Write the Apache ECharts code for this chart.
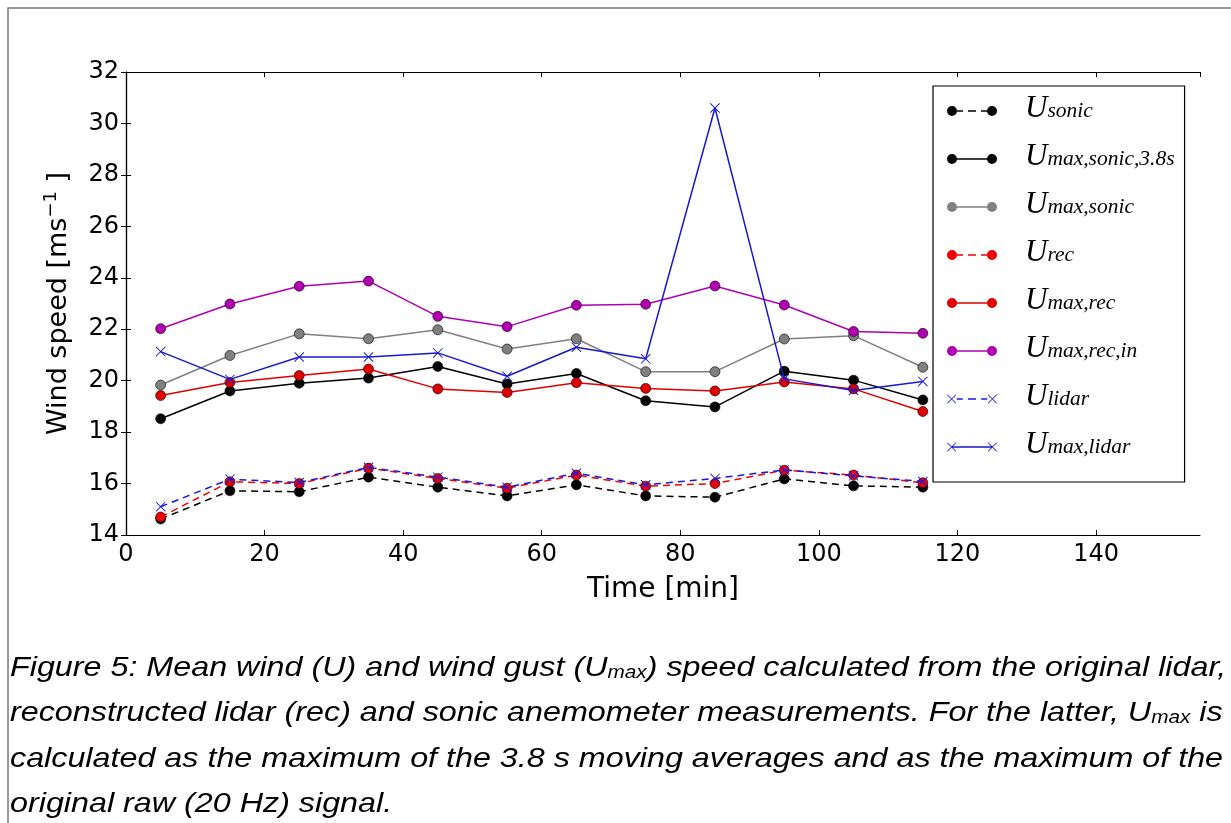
<!DOCTYPE html>
<html>
<head>
<meta charset="utf-8">
<script src="https://cdn.jsdelivr.net/npm/echarts@6/dist/echarts.min.js"></script>
<style>
html,body{margin:0;padding:0;background:#fff;}
#c{width:1231px;height:823px;}
</style>
</head>
<body>
<div id="c"></div>
<script>
var times = [5, 15, 25, 35, 45, 55, 65, 75, 85, 95, 105, 115];
var uSonic      = [14.62, 15.72, 15.68, 16.25, 15.86, 15.52, 15.95, 15.52, 15.47, 16.18, 15.91, 15.86];
var uMaxSonic38 = [18.52, 19.60, 19.90, 20.10, 20.55, 19.87, 20.28, 19.22, 18.98, 20.37, 20.02, 19.25];
var uMaxSonic   = [19.83, 20.98, 21.82, 21.63, 21.98, 21.23, 21.63, 20.35, 20.35, 21.62, 21.75, 20.52];
var uRec        = [14.70, 16.07, 16.00, 16.60, 16.20, 15.82, 16.33, 15.90, 16.00, 16.52, 16.33, 16.03];
var uMaxRec     = [19.42, 19.93, 20.20, 20.45, 19.68, 19.54, 19.92, 19.70, 19.60, 19.95, 19.68, 18.80];
var uMaxRecIn   = [22.02, 22.98, 23.67, 23.87, 22.50, 22.10, 22.93, 22.97, 23.68, 22.94, 21.91, 21.84];
var uLidar      = [15.10, 16.17, 16.04, 16.63, 16.25, 15.86, 16.40, 15.95, 16.20, 16.53, 16.30, 16.08];
var uMaxLidar   = [21.13, 20.05, 20.92, 20.92, 21.08, 20.17, 21.30, 20.85, 30.60, 20.07, 19.62, 19.97];

var seriesNames = ['Usonic', 'Umax_sonic_3.8s', 'Umax_sonic', 'Urec', 'Umax_rec', 'Umax_rec_in', 'Ulidar', 'Umax_lidar'];
var subscripts  = ['sonic', 'max,sonic,3.8s', 'max,sonic', 'rec', 'max,rec', 'max,rec,in', 'lidar', 'max,lidar'];
var xTicks = [0, 20, 40, 60, 80, 100, 120, 140];
var captionLines = [
  'Figure 5: Mean wind (U) and wind gust (U{sub|max}) speed calculated from the original lidar,',
  'reconstructed lidar (rec) and sonic anemometer measurements. For the latter, U{sub|max} is',
  'calculated as the maximum of the 3.8 s moving averages and as the maximum of the',
  'original raw (20 Hz) signal.'
];

function pairs(ys) { return times.map(function (t, i) { return [t, ys[i]]; }); }

var X_PATH = 'path://M0.5,1.1L1.1,0.5L9.5,8.9L8.9,9.5Z M8.9,0.5L9.5,1.1L1.1,9.5L0.5,8.9Z';
var C_L = 'M0,5A5,5 0 1,1 10,5A5,5 0 1,1 0,5Z ';
var C_R = 'M40,5A5,5 0 1,1 50,5A5,5 0 1,1 40,5Z ';
var X_L = 'M0.5,1.1L1.1,0.5L9.5,8.9L8.9,9.5Z M8.9,0.5L9.5,1.1L1.1,9.5L0.5,8.9Z ';
var X_R = 'M40.5,1.1L41.1,0.5L49.5,8.9L48.9,9.5Z M48.9,0.5L49.5,1.1L41.1,9.5L40.5,8.9Z ';
var SOLID = 'M5,4.3L45,4.3L45,5.7L5,5.7Z ';
var DASH = 'M10,4.3L16,4.3L16,5.7L10,5.7Z M21,4.3L29,4.3L29,5.7L21,5.7Z M34,4.3L40,4.3L40,5.7L34,5.7Z ';
var icons = {
  circDash: 'path://' + DASH + C_L + C_R,
  circSolid: 'path://' + SOLID + C_L + C_R,
  xDash: 'path://' + DASH + X_L + X_R,
  xSolid: 'path://' + SOLID + X_L + X_R
};

var styles = [
  {data: uSonic, color: '#000000', dash: true, sym: 'circle', icon: icons.circDash},
  {data: uMaxSonic38, color: '#000000', dash: false, sym: 'circle', icon: icons.circSolid},
  {data: uMaxSonic, color: '#808080', dash: false, sym: 'circle', icon: icons.circSolid},
  {data: uRec, color: '#f00000', dash: true, sym: 'circle', icon: icons.circDash},
  {data: uMaxRec, color: '#e00000', dash: false, sym: 'circle', icon: icons.circSolid},
  {data: uMaxRecIn, color: '#b000b0', dash: false, sym: 'circle', icon: icons.circSolid},
  {data: uLidar, color: '#1818e0', dash: true, sym: X_PATH, icon: icons.xDash},
  {data: uMaxLidar, color: '#1818d0', dash: false, sym: X_PATH, icon: icons.xSolid}
];

var series = styles.map(function (s, i) {
  var isCircle = s.sym === 'circle';
  return {
    name: seriesNames[i],
    type: 'line',
    data: pairs(s.data),
    symbol: s.sym,
    symbolSize: 10,
    showAllSymbol: true,
    animation: false,
    lineStyle: {color: s.color, width: 1.5, type: s.dash ? [7, 5] : 'solid'},
    itemStyle: {color: s.color, borderColor: isCircle ? '#000' : s.color, borderWidth: isCircle ? 0.6 : 0},
    emphasis: {disabled: true},
    z: 2 + i
  };
});

var legendData = seriesNames.map(function (n, i) { return {name: n, icon: styles[i].icon}; });

var captionRich = {sub: {fontFamily: 'Liberation Sans', fontStyle: 'italic', fontSize: 18, padding: [9, 0, 0, 0]}};
function capText(txt, y) {
  return {
    type: 'text', x: 10, y: y, z: 10, scaleX: 1.153, originX: 0, originY: 0, silent: true,
    style: {text: txt, x: 0, y: 0, font: 'italic 28px "Liberation Sans"', fill: '#000',
            verticalAlign: 'top', align: 'left', rich: captionRich}
  };
}

var chart = echarts.init(document.getElementById('c'), null, {renderer: 'canvas'});
var graphics = [
  {type: 'rect', z: 0, silent: true,
   shape: {x: 8, y: 8, width: 1300, height: 900}, style: {fill: 'none', stroke: '#777', lineWidth: 1.5}}
];
var capTops = [654, 699, 745, 790];
captionLines.forEach(function (t, i) { graphics.push(capText(t, capTops[i])); });

chart.setOption({
  animation: false,
  backgroundColor: '#fff',
  grid: {left: 126, right: 31, top: 72, bottom: 288, containLabel: false},
  xAxis: [{
    type: 'value', min: 0, max: 155, interval: 20, position: 'bottom',
    name: 'Time [min]', nameLocation: 'middle', nameGap: 41,
    nameTextStyle: {fontFamily: 'DejaVu Sans', fontSize: 28, color: '#000'},
    axisLine: {show: true, lineStyle: {color: '#000', width: 1.2}},
    axisTick: {show: true, inside: true, length: 5, lineStyle: {color: '#000'}},
    axisLabel: {fontFamily: 'DejaVu Sans', fontSize: 24, color: '#000', margin: 8, showMaxLabel: false,
      formatter: function (v) { return xTicks.indexOf(v) >= 0 ? String(v) : ''; }},
    splitLine: {show: false}
  }, {
    type: 'value', min: 0, max: 155, interval: 20, position: 'top',
    axisLine: {show: true, lineStyle: {color: '#000', width: 1.2}},
    axisTick: {show: true, inside: true, length: 5, lineStyle: {color: '#000'}},
    axisLabel: {show: false}, splitLine: {show: false}
  }],
  yAxis: [{
    type: 'value', min: 14, max: 32, interval: 2, position: 'left',
    name: '{n|Wind speed [ms}{sup|−1}{n| ]}', nameLocation: 'middle', nameGap: 51,
    nameTextStyle: {color: '#000', rich: {
      n: {fontFamily: 'DejaVu Sans', fontSize: 27, color: '#000'},
      sup: {fontFamily: 'DejaVu Sans', fontSize: 18, color: '#000', padding: [0, 0, 15, 0]}
    }},
    axisLine: {show: true, lineStyle: {color: '#000', width: 1.2}},
    axisTick: {show: true, inside: true, length: 5, lineStyle: {color: '#000'}},
    axisLabel: {fontFamily: 'DejaVu Sans', fontSize: 24, color: '#000', margin: 7},
    splitLine: {show: false}
  }, {
    type: 'value', min: 14, max: 32, interval: 2, position: 'right',
    axisLine: {show: true, lineStyle: {color: '#000', width: 1.2}},
    axisTick: {show: true, inside: true, length: 5, lineStyle: {color: '#000'}},
    axisLabel: {show: false}, splitLine: {show: false}
  }],
  legend: {
    data: legendData,
    orient: 'vertical',
    left: 933, top: 86,
    padding: [7, 10, 17, 14],
    itemWidth: 50, itemHeight: 10, itemGap: 12,
    backgroundColor: '#fff', borderColor: '#000', borderWidth: 1.2, borderRadius: 0,
    itemStyle: {borderWidth: 0},
    selectedMode: false,
    z: 20,
    formatter: function (name) {
      var i = seriesNames.indexOf(name);
      return '{u|U}{s|' + subscripts[i] + '}';
    },
    textStyle: {
      color: '#000',
      rich: {
        u: {fontFamily: 'Liberation Serif', fontStyle: 'italic', fontSize: 31, color: '#000', padding: [0, 0, 5, 23], lineHeight: 30},
        s: {fontFamily: 'Liberation Serif', fontStyle: 'italic', fontSize: 21.5, color: '#000', lineHeight: 24}
      }
    }
  },
  series: series,
  graphic: graphics
});
</script>
</body>
</html>
